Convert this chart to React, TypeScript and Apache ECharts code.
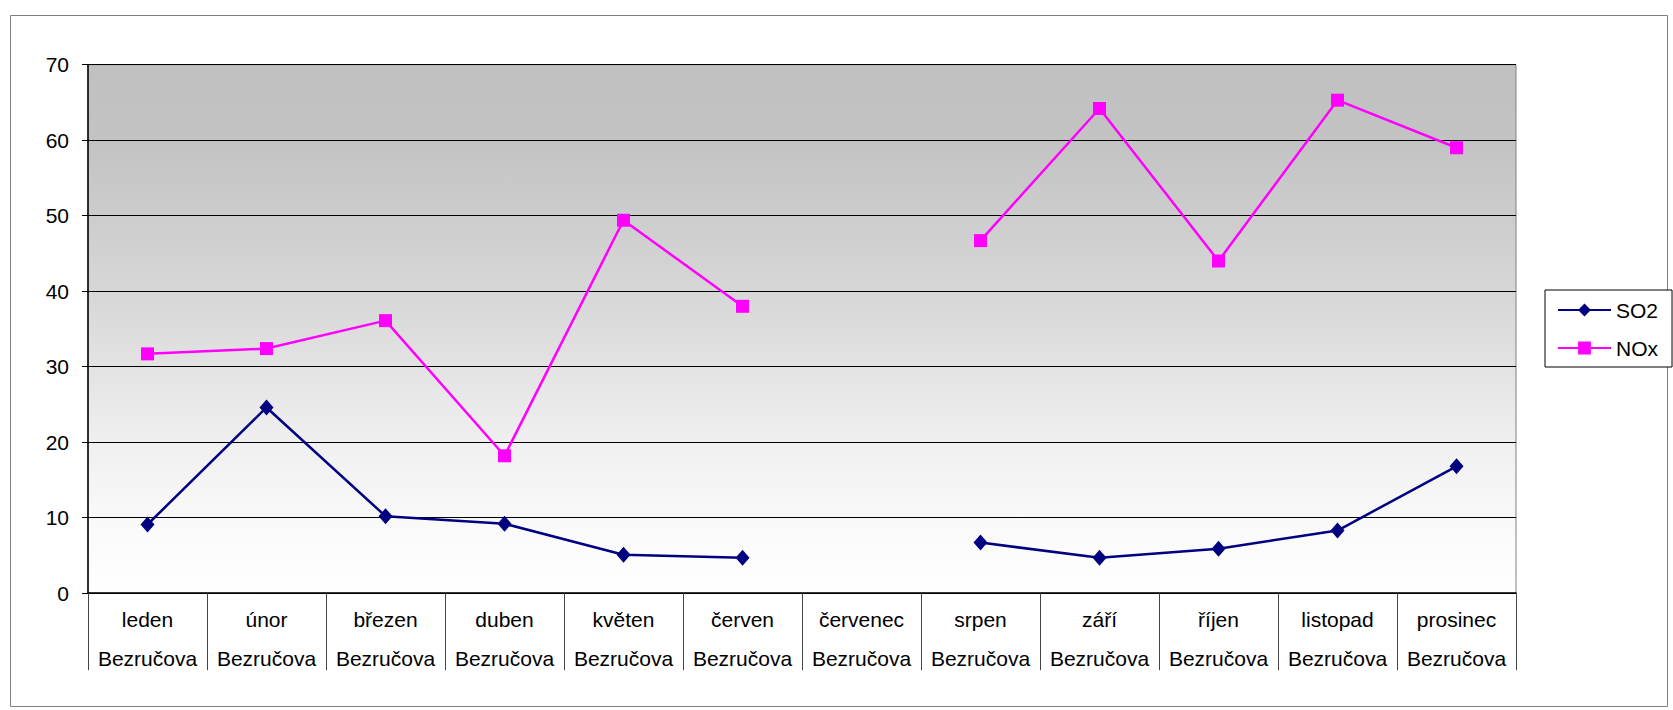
import React, { useEffect, useRef } from "react";
import * as echarts from "echarts";

const months = ["leden", "únor", "březen", "duben", "květen", "červen", "červenec", "srpen", "září", "říjen", "listopad", "prosinec"];
const station = "Bezručova";
const so2 = [9.1, 24.6, 10.2, 9.2, 5.1, 4.7, null, 6.7, 4.7, 5.9, 8.3, 16.8];
const nox = [31.7, 32.4, 36.1, 18.2, 49.4, 38.0, null, 46.7, 64.2, 44.0, 65.3, 59.0];
const yTicks = { min: 0, max: 70, interval: 10 };

export default function App() {
  const ref = useRef<HTMLDivElement>(null);
  useEffect(() => {
    const chart = echarts.init(ref.current!, null, { renderer: "svg" });
    const font = "Liberation Sans, Arial, sans-serif";
    chart.setOption({
      animation: false,
      backgroundColor: "#ffffff",
      graphic: [
        {
          type: "rect",
          shape: { x: 10.5, y: 15.5, width: 1657, height: 691 },
          style: { fill: "none", stroke: "#808080", lineWidth: 1 },
          z: -1,
        },
      ],
      grid: {
        left: 88,
        top: 64.7,
        width: 1428,
        height: 528.5,
        show: true,
        borderColor: "#808080",
        borderWidth: 1,
        backgroundColor: new echarts.graphic.LinearGradient(0, 0, 0, 1, [
          { offset: 0, color: "#c0c0c0" },
          { offset: 0.15, color: "#c3c3c3" },
          { offset: 0.45, color: "#d8d8d8" },
          { offset: 0.72, color: "#f0f0f0" },
          { offset: 0.88, color: "#fafafa" },
          { offset: 1, color: "#ffffff" },
        ]),
      },
      legend: {
        orient: "vertical",
        left: 1545,
        top: 290,
        padding: [8, 14, 7, 12],
        itemWidth: 53,
        itemHeight: 16,
        itemGap: 14,
        backgroundColor: "#ffffff",
        borderColor: "#000000",
        borderWidth: 1,
        textStyle: { fontFamily: font, fontSize: 21, color: "#000", lineHeight: 24 },
        data: ["SO2", "NOx"],
      },
      xAxis: {
        type: "category",
        data: months.map((m) => m + "\n" + station),
        boundaryGap: true,
        axisLine: { show: true, lineStyle: { color: "#000", width: 1.5 } },
        axisTick: { show: true, interval: 0, length: 77, lineStyle: { color: "#444", width: 1 } },
        axisLabel: {
          interval: 0,
          margin: 7,
          fontFamily: font,
          fontSize: 21,
          color: "#000",
          lineHeight: 39,
        },
      },
      yAxis: {
        type: "value",
        min: yTicks.min,
        max: yTicks.max,
        interval: yTicks.interval,
        axisLine: { show: true, lineStyle: { color: "#000", width: 1.5 } },
        axisTick: { show: true, length: 6, lineStyle: { color: "#000" } },
        axisLabel: { margin: 19, fontFamily: font, fontSize: 21, color: "#000" },
        splitLine: { show: true, lineStyle: { color: "#000", width: 1 } },
      },
      series: [
        {
          name: "SO2",
          type: "line",
          data: so2,
          connectNulls: false,
          symbol: "diamond",
          symbolSize: [14, 16],
          itemStyle: { color: "#000080" },
          lineStyle: { color: "#000080", width: 2.5 },
        },
        {
          name: "NOx",
          type: "line",
          data: nox,
          connectNulls: false,
          symbol: "rect",
          symbolSize: 13,
          itemStyle: { color: "#ff00ff" },
          lineStyle: { color: "#ff00ff", width: 2.5 },
        },
      ],
    });
    return () => chart.dispose();
  }, []);
  return (
    <div
      ref={ref}
      style={{ position: "fixed", left: 0, top: 0, width: 1673, height: 710 }}
    />
  );
}
